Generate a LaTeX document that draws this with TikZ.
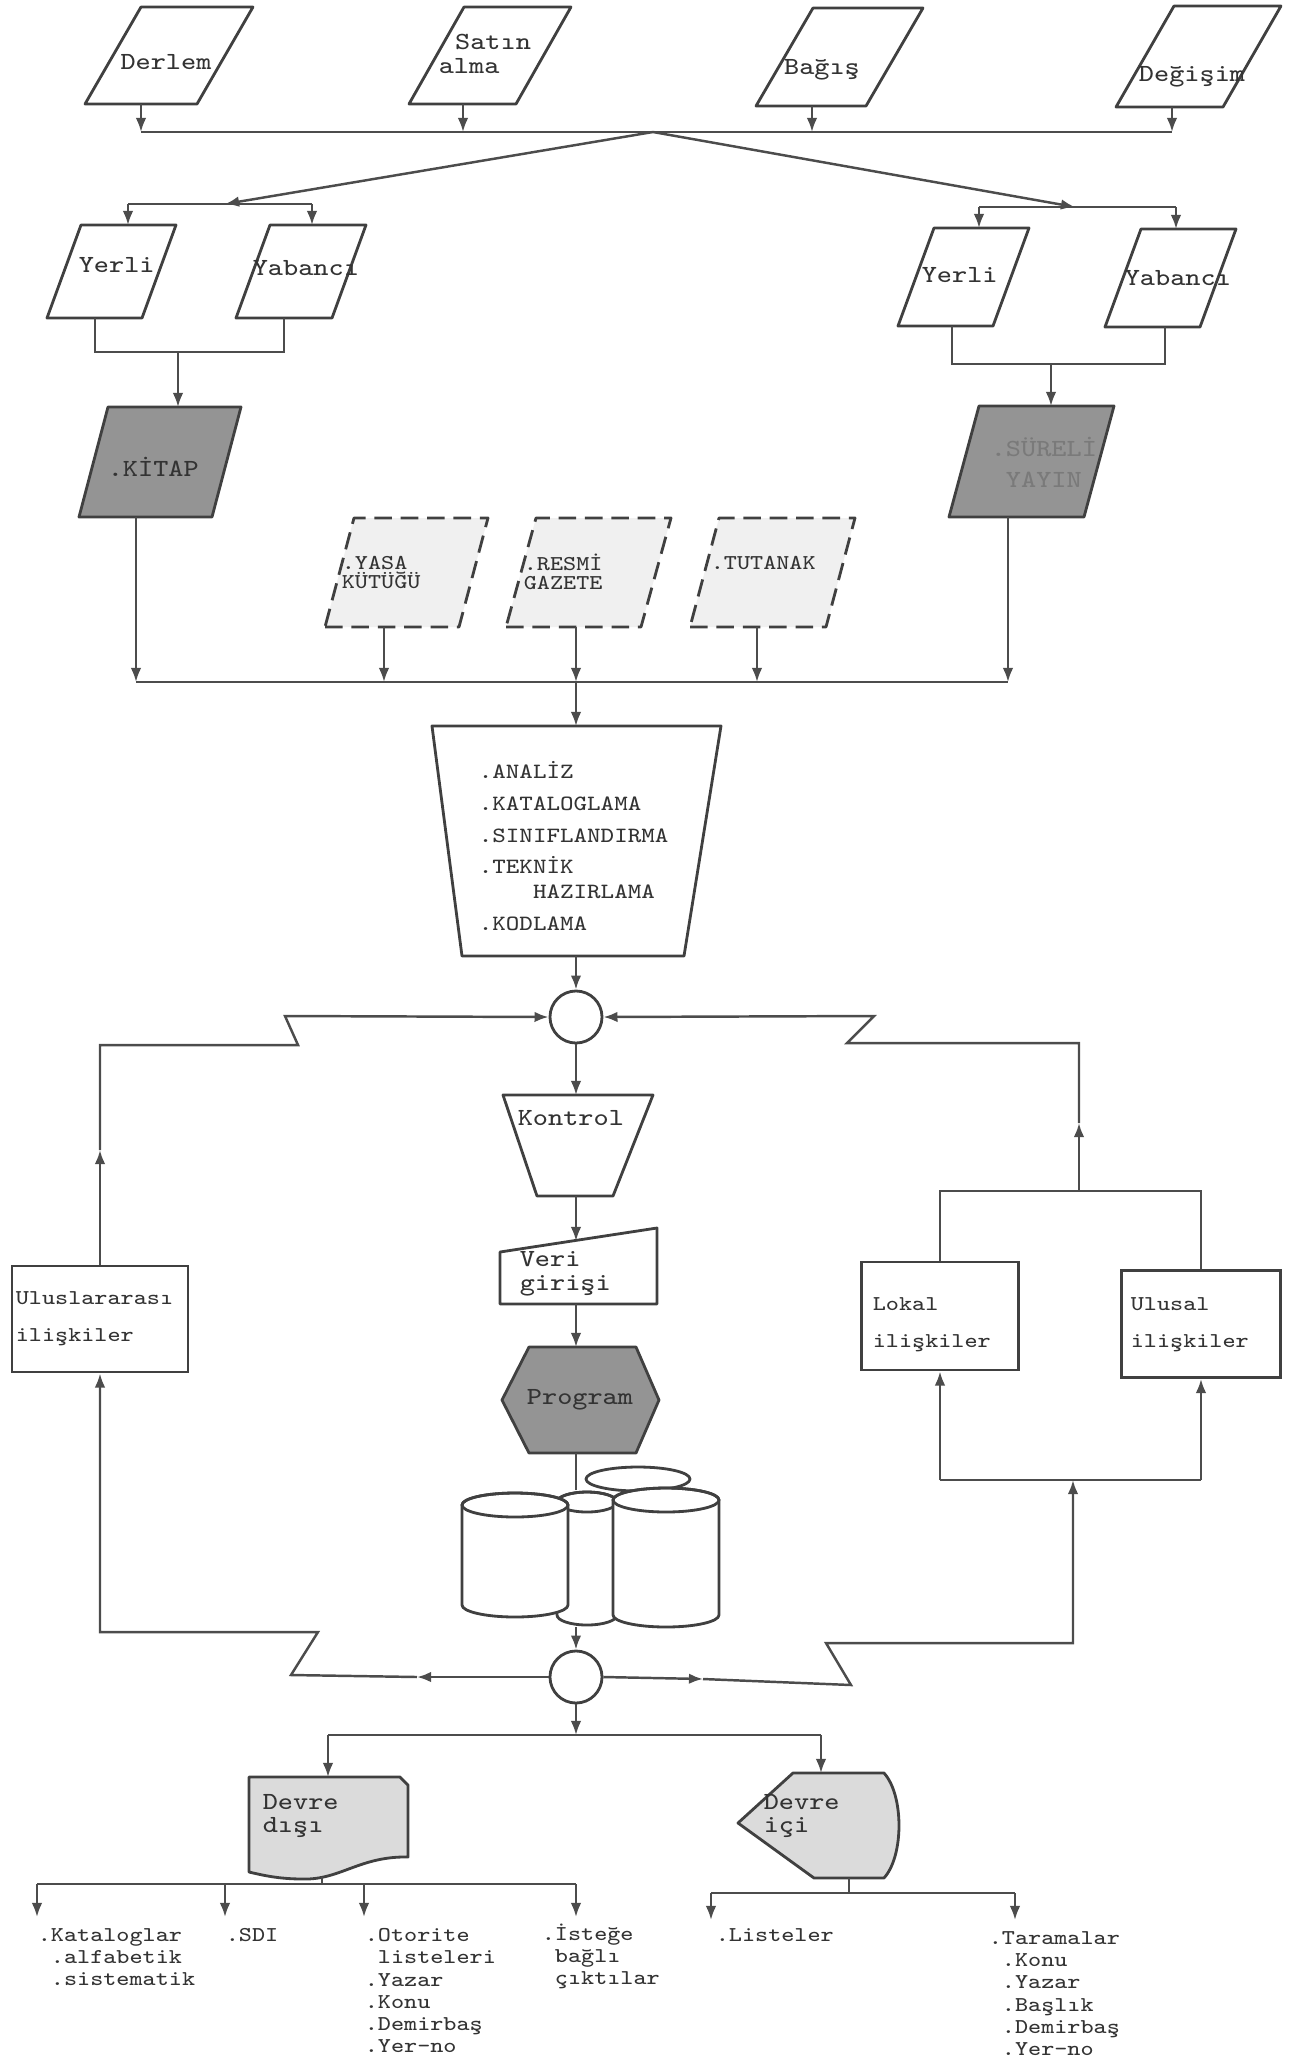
\documentclass[tikz,border=0pt]{standalone}
\usepackage{tikz}
\usetikzlibrary{arrows.meta}

\tikzset{
  ln/.style={draw=black!70,line width=0.7pt},
  arr/.style={ln,-{Latex[length=4pt,width=3pt]}},
  box/.style={draw=black!75,line width=0.8pt,line join=round},
  dbox/.style={box,dash pattern=on 5pt off 2.5pt,fill=black!6},
  dark/.style={box,fill=black!42},
  pale/.style={box,fill=black!14},
  rbox/.style={draw=black!75,line width=0.8pt,inner sep=0pt},
  jn/.style={circle,draw=black!75,line width=0.8pt,minimum size=0.52cm,inner sep=0pt,fill=white},
  lbl/.style={font=\fontsize{7}{6.8}\selectfont\ttfamily,xscale=1.16,text=black!80,inner sep=0pt,align=left},
  sml/.style={font=\fontsize{6}{6.3}\selectfont\ttfamily,xscale=1.17,text=black!80,inner sep=0pt,align=left}
}

\begin{document}
\begin{tikzpicture}[x=0.01cm,y=-0.01cm]
\useasboundingbox (0,0) rectangle (1296,2059);

\draw[box] (85,104) -- ++(112,0) -- ++(56,-97) -- ++(-112,0) -- cycle;
\draw[box] (409,104) -- ++(107,0) -- ++(55,-97) -- ++(-107,0) -- cycle;
\draw[box] (756,106) -- ++(110,0) -- ++(57,-98) -- ++(-110,0) -- cycle;
\draw[box] (1116,107) -- ++(107,0) -- ++(58,-101) -- ++(-107,0) -- cycle;
\node[lbl] (derlem) at (166,62) {Derlem};
\node[lbl,anchor=west] (satin) at (438,54) {\hspace*{4pt}Satın\\alma};
\node[lbl] (bagis) at (822,70) {Bağış};
\node[lbl] (degisim) at (1192,77) {Değişim};

\coordinate (derlem-s) at (141,104);
\coordinate (satin-s) at (463,104);
\coordinate (bagis-s) at (812,106);
\coordinate (degisim-s) at (1172,107);
\coordinate (hub) at (653,132);
\foreach \n in {derlem,satin,bagis,degisim}
  \draw[arr] (\n-s) -- (\n-s |- hub);
\draw[ln] (derlem-s |- hub) -- (degisim-s |- hub);

\coordinate (split-l) at (225,204);
\coordinate (split-r) at (1075,207);
\draw[arr] (hub) -- (split-l);
\draw[arr] (hub) -- (split-r);

\draw[box] (47,318) -- ++(95,0) -- ++(34,-93) -- ++(-95,0) -- cycle;
\draw[box] (236,318) -- ++(96,0) -- ++(34,-93) -- ++(-96,0) -- cycle;
\draw[box] (898,326) -- ++(95,0) -- ++(36,-98) -- ++(-95,0) -- cycle;
\draw[box] (1105,327) -- ++(95,0) -- ++(36,-98) -- ++(-95,0) -- cycle;
\node[lbl,anchor=west] (yerli1) at (78,265) {Yerli};
\node[lbl,anchor=west] (yab1) at (252,268) {Yabancı};
\node[lbl,anchor=west] (yerli2) at (921,275) {Yerli};
\node[lbl,anchor=west] (yab2) at (1124,278) {Yabancı};

\coordinate (yerli1-n) at (128,225);
\coordinate (yab1-n) at (312,225);
\coordinate (yerli2-n) at (979,228);
\coordinate (yab2-n) at (1176,229);
\draw[ln] (split-l -| yerli1-n) -- (split-l -| yab1-n);
\draw[ln] (split-r -| yerli2-n) -- (split-r -| yab2-n);
\draw[arr] (split-l -| yerli1-n) -- (yerli1-n);
\draw[arr] (split-l -| yab1-n) -- (yab1-n);
\draw[arr] (split-r -| yerli2-n) -- (yerli2-n);
\draw[arr] (split-r -| yab2-n) -- (yab2-n);

\coordinate (yerli1-s) at (95,318);
\coordinate (yab1-s) at (284,318);
\coordinate (yerli2-s) at (952,326);
\coordinate (yab2-s) at (1165,327);
\coordinate (brk-l) at (178,352);
\coordinate (brk-r) at (1051,364);
\coordinate (kitap-n) at (178,407);
\coordinate (sur-n) at (1051,406);
\draw[ln] (yerli1-s) -- (yerli1-s |- brk-l) -- (yab1-s |- brk-l) -- (yab1-s);
\draw[ln] (yerli2-s) -- (yerli2-s |- brk-r) -- (yab2-s |- brk-r) -- (yab2-s);
\draw[arr] (brk-l) -- (kitap-n);
\draw[arr] (brk-r) -- (sur-n);

\draw[dark] (79,517) -- ++(133,0) -- ++(29,-110) -- ++(-133,0) -- cycle;
\draw[dark] (949,517) -- ++(135,0) -- ++(30,-111) -- ++(-135,0) -- cycle;
\node[lbl,anchor=west] (kitap) at (107,467) {.KİTAP};
\node[lbl,anchor=west,text=black!52] (sureli) at (990,462) {.SÜRELİ\\[2pt]\phantom{.}YAYIN};

\draw[dbox] (325,627) -- ++(134,0) -- ++(29,-109) -- ++(-134,0) -- cycle;
\draw[dbox] (506,627) -- ++(135,0) -- ++(30,-109) -- ++(-135,0) -- cycle;
\draw[dbox] (690,627) -- ++(136,0) -- ++(29,-109) -- ++(-136,0) -- cycle;
\node[sml,anchor=west] (yasa) at (341,572) {.YASA\\[-0.9pt]KÜTÜĞÜ};
\node[sml,anchor=west] (resmi) at (523,572) {.RESMİ\\[-0.9pt]GAZETE};
\node[sml,anchor=west] (tutanak) at (710,563) {.TUTANAK};

\coordinate (kitap-s) at (136,517);
\coordinate (yasa-s) at (384,627);
\coordinate (resmi-s) at (576,627);
\coordinate (tutanak-s) at (757,627);
\coordinate (sur-s) at (1008,517);
\coordinate (merge) at (576,682);
\foreach \n in {kitap,yasa,resmi,tutanak,sur}
  \draw[arr] (\n-s) -- (\n-s |- merge);
\draw[ln] (kitap-s |- merge) -- (sur-s |- merge);

\coordinate (proc-n) at (576,726);
\coordinate (proc-s) at (576,956);
\draw[arr] (merge) -- (proc-n);
\draw[box] (432,726) -- (721,726) -- (684,956) -- (462,956) -- cycle;
\node[sml,anchor=north west,font=\fontsize{6.2}{9}\selectfont\ttfamily] (proc) at (478,761)
  {.ANALİZ\\.KATALOGLAMA\\.SINIFLANDIRMA\\.TEKNİK\\[-2pt]\phantom{.TEK}HAZIRLAMA\\.KODLAMA};

\node[jn] (ctop) at (576,1017) {};
\draw[arr] (proc-s) -- (ctop.north);

\coordinate (kon-n) at (576,1095);
\coordinate (kon-s) at (576,1196);
\draw[arr] (ctop.south) -- (kon-n);
\draw[box] (503,1095) -- (653,1095) -- (613,1196) -- (537,1196) -- cycle;
\node[lbl,anchor=west] (kontrol) at (517,1118) {Kontrol};

\coordinate (veri-n) at (576,1241);
\coordinate (veri-s) at (576,1304);
\draw[arr] (kon-s) -- (veri-n);
\draw[box] (500,1304) -- (657,1304) -- (657,1228) -- (500,1252) -- cycle;
\node[lbl,anchor=west] (veri) at (519,1274) {Veri\\girişi};

\coordinate (prog-n) at (576,1347);
\coordinate (prog-s) at (576,1453);
\draw[arr] (veri-s) -- (prog-n);
\draw[dark] (529,1347) -- (636,1347) -- (659,1400) -- (636,1453) -- (529,1453) -- (502,1400) -- cycle;
\node[lbl] (prog) at (580,1400) {Program};

\coordinate (disk-n) at (576,1490);
\coordinate (disk-s) at (576,1627);
\draw[ln] (prog-s) -- (disk-n);
\filldraw[box,fill=white] (638,1479) ellipse [x radius=52,y radius=12];
\filldraw[box,fill=white] (557,1502) -- (557,1615) arc [start angle=180,end angle=0,x radius=30,y radius=10]
  -- (617,1502) arc [start angle=0,end angle=-180,x radius=30,y radius=10] -- cycle;
\draw[box] (587,1502) ellipse [x radius=30,y radius=10];
\filldraw[box,fill=white] (462,1505) -- (462,1605) arc [start angle=180,end angle=0,x radius=53,y radius=12]
  -- (568,1505) arc [start angle=0,end angle=-180,x radius=53,y radius=12] -- cycle;
\draw[box] (515,1505) ellipse [x radius=53,y radius=12];
\filldraw[box,fill=white] (613,1500) -- (613,1615) arc [start angle=180,end angle=0,x radius=53,y radius=12]
  -- (719,1500) arc [start angle=0,end angle=-180,x radius=53,y radius=12] -- cycle;
\draw[box] (666,1500) ellipse [x radius=53,y radius=12];

\node[jn] (cbot) at (576,1677) {};
\draw[arr] (disk-s) -- (cbot.north);

\node[rbox,minimum width=1.76cm,minimum height=1.06cm] (uluslar) at (100,1319) {};
\node[sml,anchor=west] (uluslar-t) at (15,1319) {Uluslararası\\[4.2pt]ilişkiler};
\node[rbox,minimum width=1.57cm,minimum height=1.08cm] (lokal) at (940,1316) {};
\node[sml,anchor=west] (lokal-t) at (872,1325) {Lokal\\[4.2pt]ilişkiler};
\node[rbox,minimum width=1.59cm,minimum height=1.07cm] (ulusal) at (1201,1324) {};
\node[sml,anchor=west] (ulusal-t) at (1130,1325) {Ulusal\\[4.2pt]ilişkiler};

\coordinate (lu1) at (100,1150);
\coordinate (lz-a) at (298,1045);
\coordinate (lz-b) at (285,1016);
\draw[arr] (uluslar.north) -- (lu1);
\draw[arr] (lu1) |- (lz-a) -- (lz-b) -- (ctop.west);

\coordinate (ld1) at (417,1677);
\coordinate (lz-c) at (291,1675);
\coordinate (lz-d) at (318,1632);
\draw[arr] (cbot.west) -- (ld1);
\draw[arr] (ld1) -- (lz-c) -- (lz-d) -| (uluslar.south);

\coordinate (rt) at (1079,1191);
\coordinate (ru1) at (1079,1123);
\coordinate (rz-a) at (847,1043);
\coordinate (rz-b) at (874,1016);
\draw[ln] (lokal.north) -- (lokal.north |- rt) -- (ulusal.north |- rt) -- (ulusal.north);
\draw[arr] (rt) -- (ru1);
\draw[arr] (ru1) |- (rz-a) -- (rz-b) -- (ctop.east);

\coordinate (rd1) at (703,1679);
\coordinate (rz-c) at (851,1685);
\coordinate (rz-d) at (826,1643);
\coordinate (rb) at (1073,1480);
\draw[arr] (cbot.east) -- (rd1);
\draw[arr] (rd1) -- (rz-c) -- (rz-d) -| (rb);
\draw[ln] (lokal.south |- rb) -- (ulusal.south |- rb);
\draw[arr] (lokal.south |- rb) -- (lokal.south);
\draw[arr] (ulusal.south |- rb) -- (ulusal.south);

\coordinate (out) at (576,1735);
\coordinate (dd-n) at (328,1777);
\coordinate (di-n) at (821,1773);
\draw[arr] (cbot.south) -- (out);
\draw[ln] (out -| dd-n) -- (out -| di-n);
\draw[arr] (out -| dd-n) -- (dd-n);
\draw[arr] (out -| di-n) -- (di-n);

\draw[pale] (249,1777) -- (400,1777) -- (408,1785) -- (408,1857)
  .. controls (360,1856) and (340,1880) .. (303,1879)
  .. controls (278,1879) and (262,1875) .. (249,1872) -- cycle;
\node[lbl,anchor=west] (disi) at (262,1816) {Devre\\dışı};
\draw[pale] (793,1773) -- (884,1773) .. controls (904,1795) and (904,1856) .. (884,1878)
  -- (814,1878) -- (738,1823) -- cycle;
\node[lbl,anchor=west] (ici) at (763,1816) {Devre\\içi};

\coordinate (dd-s) at (322,1877);
\coordinate (ob-l) at (322,1884);
\coordinate (di-s) at (849,1878);
\coordinate (ob-r) at (849,1893);
\coordinate (kat-n) at (37,1917);
\coordinate (sdi-n) at (225,1917);
\coordinate (oto-n) at (364,1917);
\coordinate (ist-n) at (576,1917);
\coordinate (lis-n) at (711,1920);
\coordinate (tar-n) at (1015,1920);
\draw[ln] (dd-s) -- (ob-l);
\draw[ln] (kat-n |- ob-l) -- (ist-n |- ob-l);
\foreach \n in {kat,sdi,oto,ist}
  \draw[arr] (\n-n |- ob-l) -- (\n-n);
\draw[ln] (di-s) -- (ob-r);
\draw[ln] (lis-n |- ob-r) -- (tar-n |- ob-r);
\foreach \n in {lis,tar}
  \draw[arr] (\n-n |- ob-r) -- (\n-n);

\node[sml,anchor=north west] (kat) at (37,1928) {.Kataloglar\\\phantom{.}.alfabetik\\\phantom{.}.sistematik};
\node[sml,anchor=north west] (sdi) at (225,1928) {.SDI};
\node[sml,anchor=north west] (oto) at (364,1928) {.Otorite\\\phantom{.}listeleri\\.Yazar\\.Konu\\.Demirbaş\\.Yer-no};
\node[sml,anchor=north west] (ist) at (541,1923) {.İsteğe\\\phantom{.}bağlı\\\phantom{.}çıktılar};
\node[sml,anchor=north west] (lis) at (715,1928) {.Listeler};
\node[sml,anchor=north west] (tar) at (988,1931) {.Taramalar\\\phantom{.}.Konu\\\phantom{.}.Yazar\\\phantom{.}.Başlık\\\phantom{.}.Demirbaş\\\phantom{.}.Yer-no};

\end{tikzpicture}
\end{document}
